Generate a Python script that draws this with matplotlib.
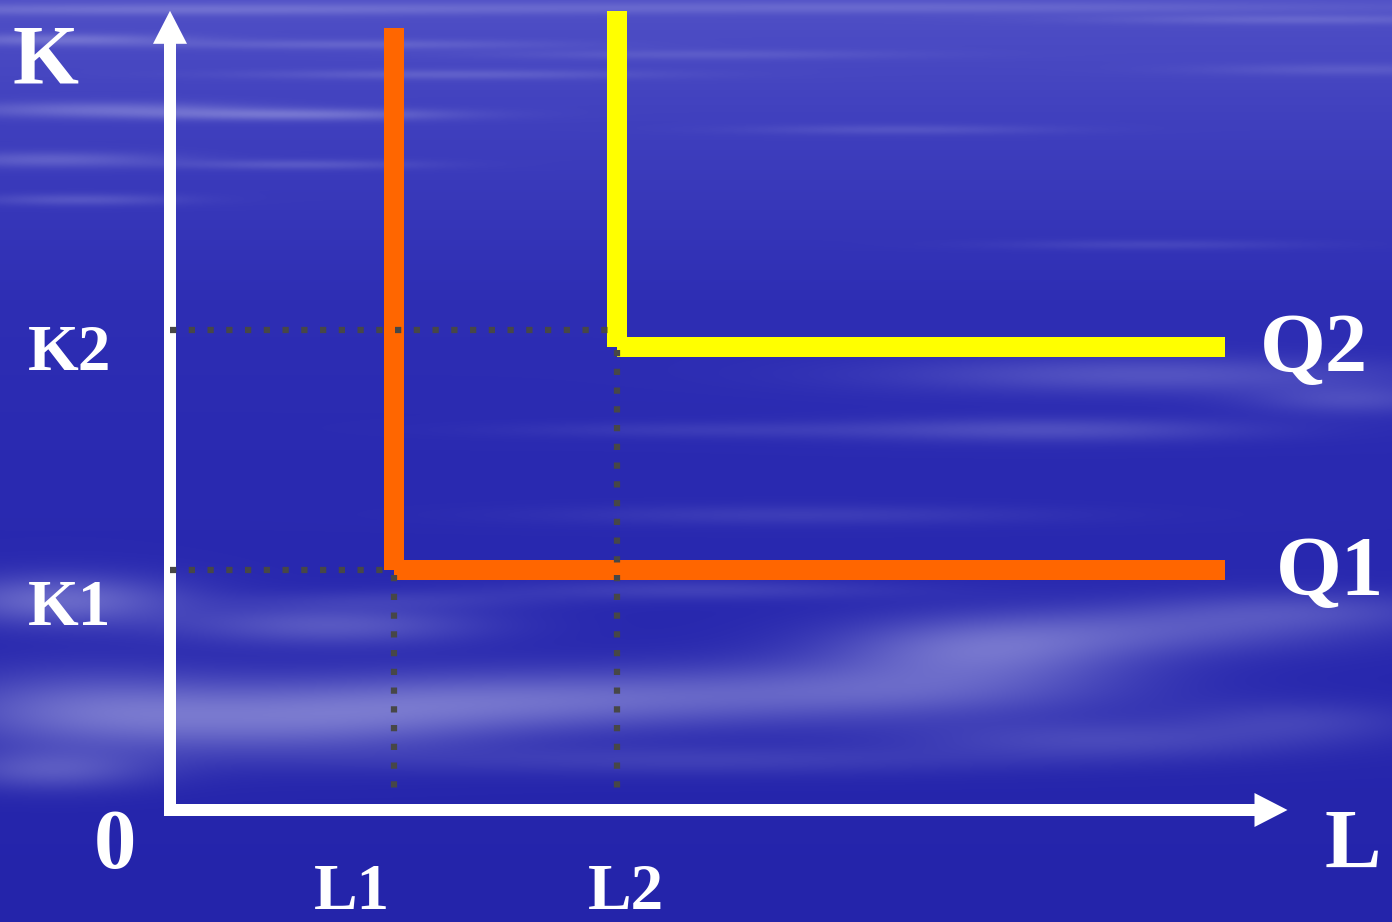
import numpy as np
import matplotlib
matplotlib.use("Agg")
import matplotlib.pyplot as plt
from matplotlib.patches import FancyArrow

# ---------------- data (economic units) ----------------
L_levels = [1.0, 2.0]          # L1, L2
K_levels = [1.0, 2.0]          # K1, K2
L_labels = ["L1", "L2"]
K_labels = ["K1", "K2"]
iso_names = ["Q1", "Q2"]
iso_corner_L = [1.0, 2.0]      # corner of each L-shaped isoquant
iso_corner_K = [1.0, 1.93]
iso_top_K = [3.26, 3.33]       # top of the vertical arm
iso_right_L = [4.72, 4.72]     # end of the horizontal arm
iso_colors = ["#FF6600", "#FFFF00"]
L_axis_max = 5.0
K_axis_max = 3.33
dot_K_end_L = [0.98, 1.96]     # horizontal dotted guide ends
dot_L_start_K = [0.98, 1.917]  # vertical dotted guide starts

# ---------------- figure / axes ----------------
W, H = 1392, 922
fig = plt.figure(figsize=(W / 100, H / 100), dpi=100)
ax = fig.add_axes([0, 0, 1, 1])
px_x, px_y = 223.5, 240.0          # pixels per unit
ox, oy = 170.0, 810.0              # origin pixel
xlim = (-ox / px_x, (W - ox) / px_x)
ylim = ((oy - H) / px_y, oy / px_y)
ax.set_xlim(*xlim)
ax.set_ylim(*ylim)
ax.axis("off")

# ---------------- background (sky texture) ----------------
yy, xx = np.mgrid[0:H, 0:W].astype(float)
stops_y = [0, 120, 300, 450, 922]
stops_c = np.array([[80, 80, 198], [64, 64, 190], [46, 46, 180], [42, 42, 177], [36, 36, 170]], float)
base = np.stack([np.interp(yy, stops_y, stops_c[:, i]) for i in range(3)], axis=-1)
blobs = [
    (150, 10, 400, 6, 0.25), (900, 8, 500, 6, 0.2), (1300, 20, 200, 5, 0.2),
    (60, 40, 120, 6, 0.3), (350, 45, 200, 5, 0.2), (450, 75, 200, 5, 0.2),
    (700, 55, 200, 5, 0.15), (300, 115, 150, 6, 0.35), (100, 110, 150, 8, 0.3),
    (900, 130, 150, 5, 0.15), (50, 160, 120, 8, 0.25), (300, 165, 120, 5, 0.2),
    (80, 200, 100, 6, 0.2), (1150, 245, 150, 5, 0.12), (1350, 70, 150, 6, 0.15),
    (1150, 375, 250, 18, 0.25), (1050, 430, 200, 12, 0.22), (1350, 400, 100, 15, 0.2),
    (700, 430, 200, 8, 0.1), (800, 515, 250, 10, 0.12), (700, 590, 200, 10, 0.15),
    (400, 600, 150, 10, 0.1),
    (60, 600, 120, 25, 0.4), (330, 625, 150, 20, 0.3), (550, 700, 250, 30, 0.38),
    (300, 720, 200, 35, 0.38), (80, 710, 150, 40, 0.35), (980, 650, 150, 30, 0.38),
    (900, 690, 220, 30, 0.32), (1150, 630, 200, 25, 0.25), (1300, 610, 150, 20, 0.2),
    (1100, 740, 200, 20, 0.2), (1300, 720, 120, 20, 0.15), (50, 770, 100, 20, 0.28),
    (700, 760, 300, 15, 0.15),
]
a = np.zeros((H, W))
for cx, cy, sx, sy, amp in blobs:
    a += amp * np.exp(-((xx - cx) / sx) ** 2 - ((yy - cy) / sy) ** 2)
a = np.clip(a, 0, 0.7)[..., None]
light = np.array([200, 200, 240], float)
bg = (base * (1 - a) + light * a) / 255.0
ax.imshow(bg, extent=(xlim[0], xlim[1], ylim[0], ylim[1]), origin="upper",
          aspect="auto", zorder=0, interpolation="bilinear")

# ---------------- axes arrows ----------------
shaft = 12
ax.add_patch(FancyArrow(0, -6 / px_y, 0, K_axis_max + 6 / px_y, width=shaft / px_x,
                        head_width=34 / px_x, head_length=33 / px_y,
                        length_includes_head=True, color="white", lw=0, zorder=3))
ax.add_patch(FancyArrow(-6 / px_x, 0, L_axis_max + 6 / px_x, 0, width=shaft / px_y,
                        head_width=34 / px_y, head_length=33 / px_x,
                        length_includes_head=True, color="white", lw=0, zorder=3))

# ---------------- isoquants ----------------
for Lc, Kc, top, right, col in zip(iso_corner_L, iso_corner_K, iso_top_K, iso_right_L, iso_colors):
    ax.plot([Lc, Lc, np.nan, Lc, right], [top, Kc, np.nan, Kc, Kc], color=col,
            lw=14.4, solid_capstyle="butt", zorder=4)

# ---------------- dotted guides ----------------
dot_style = dict(color="#474747", lw=4.5, linestyle=(0, (1, 2.0)),
                 dash_capstyle="butt", zorder=5)
for Lv, Kv, Lend, Kstart in zip(L_levels, K_levels, dot_K_end_L, dot_L_start_K):
    ax.plot([0.0, Lend], [Kv, Kv], **dot_style)
    ax.plot([Lv, Lv], [Kstart, 0.04], **dot_style)

# ---------------- labels ----------------
font = dict(family=["Liberation Serif", "DejaVu Serif"], weight="bold", color="white",
            ha="center", va="baseline", zorder=6)
big, small = 61, 47
ax.text(-0.555, 3.029, "K", fontsize=big, **font)
ax.text(5.29, -0.242, "L", fontsize=big, **font)
ax.text(-0.246, -0.242, "0", fontsize=big, **font)
for lab, xv in zip(L_labels, [0.814, 2.04]):
    ax.text(xv, -0.412, lab, fontsize=small, **font)
for lab, yv in zip(K_labels, [0.771, 1.833]):
    ax.text(-0.45, yv, lab, fontsize=small, **font)
for lab, xv, yv in zip(iso_names, [5.19, 5.12], [0.896, 1.825]):
    ax.text(xv, yv, lab, fontsize=big, **font)

fig.savefig("out.png", dpi=100)
